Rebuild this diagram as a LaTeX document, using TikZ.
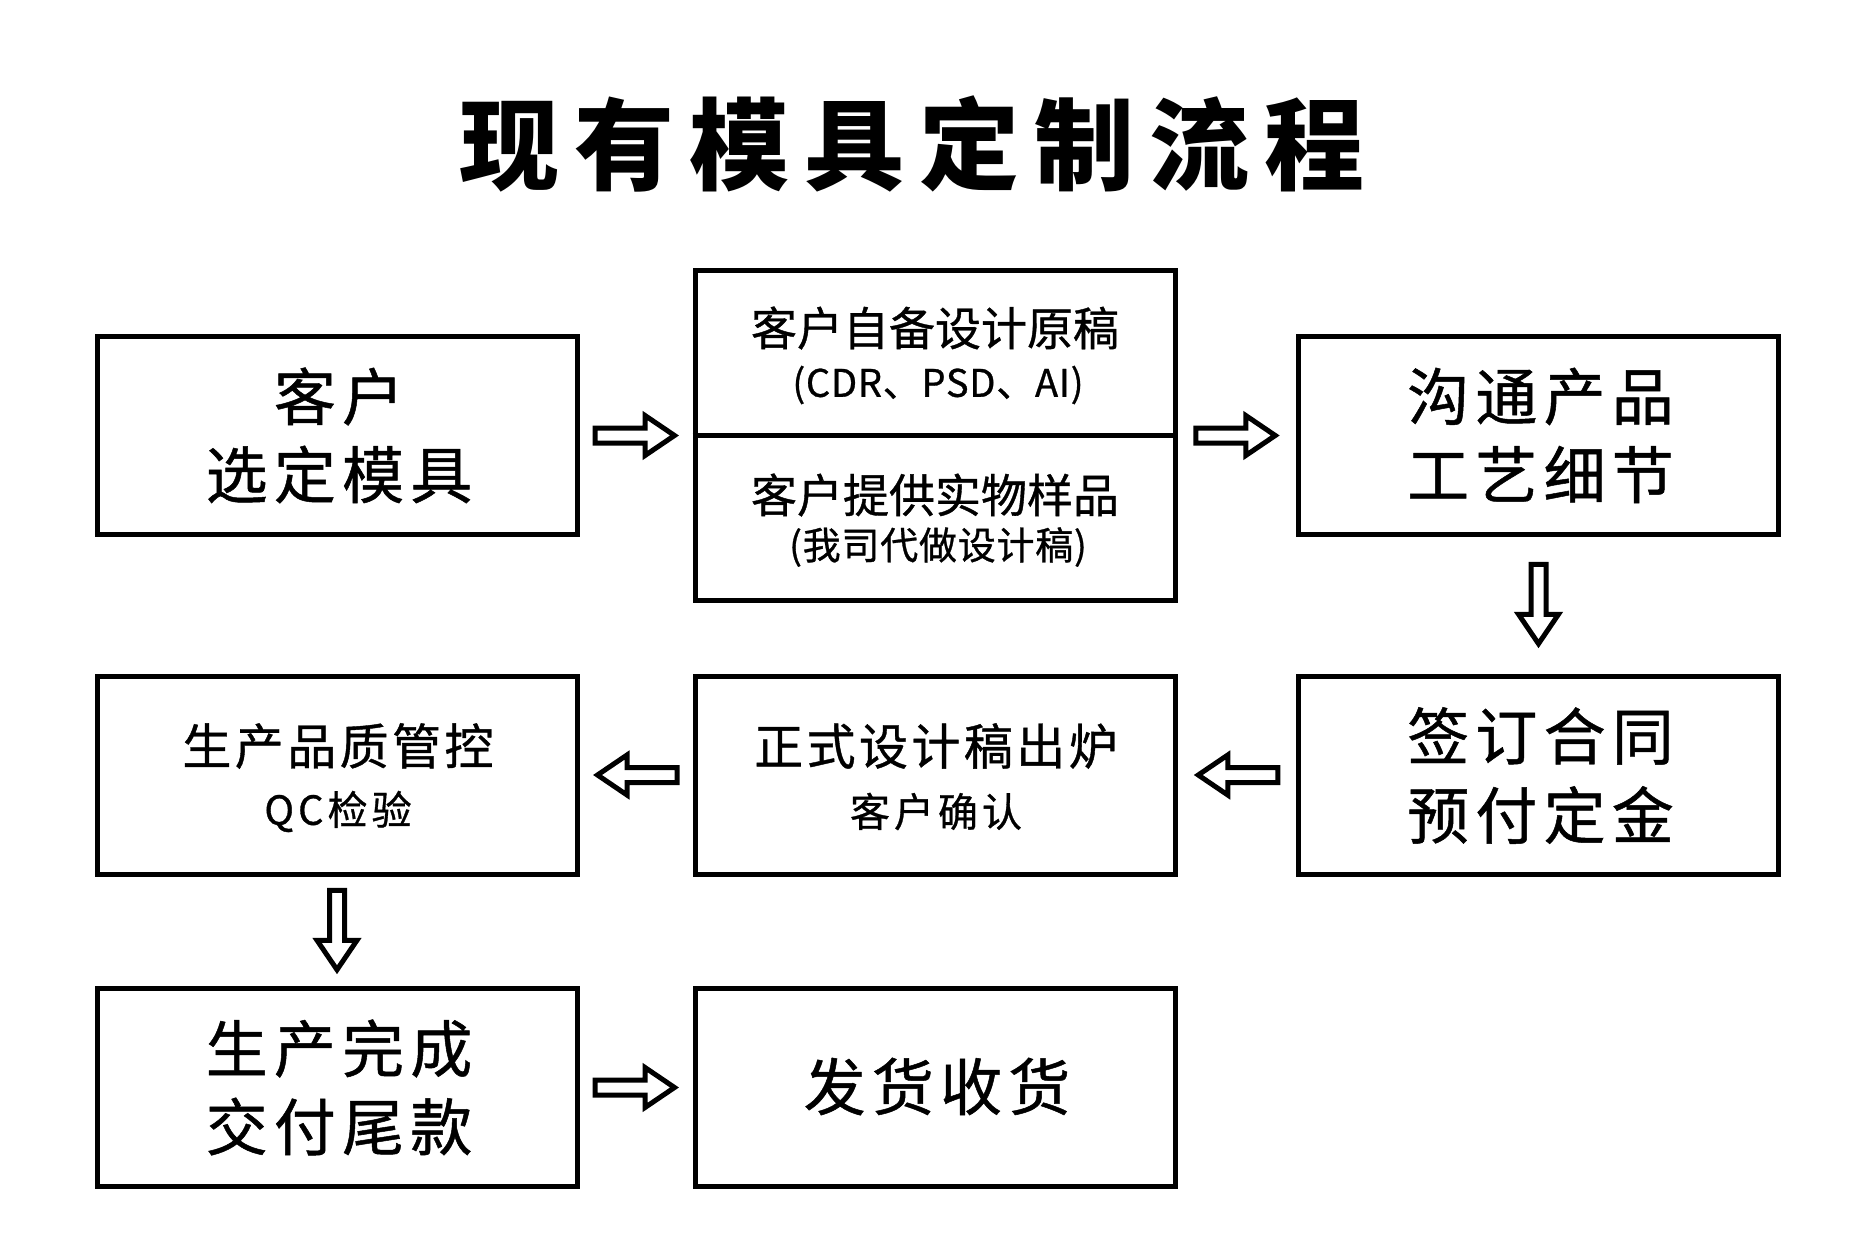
\documentclass[tikz,border=0pt]{standalone}
\usepackage{fontspec}
\setmainfont{Noto Sans CJK SC}
\usetikzlibrary{calc}
\tikzset{
  box/.style={draw, line width=5pt, minimum width=480pt, minimum height=198pt, inner sep=0pt},
  tallbox/.style={box, minimum height=330pt},
  txt/.style={inner sep=0pt, text=black},
  bigtxt/.style={txt, font=\fontsize{62}{62}\selectfont\addfontfeature{LetterSpace=10,FakeBold=0.8}},
  midtxt/.style={txt, font=\fontsize{49}{49}\selectfont\addfontfeature{LetterSpace=7,FakeBold=0.8}},
  hdtxt/.style={txt, font=\fontsize{46}{46}\selectfont\addfontfeature{FakeBold=0.8}},
  smalltxt/.style={txt, font=\fontsize{40}{40}\selectfont\addfontfeature{LetterSpace=10,FakeBold=0.8}},
  subtxt/.style={txt, font=\fontsize{38}{38}\selectfont\addfontfeature{LetterSpace=2,FakeBold=0.8}},
  titletxt/.style={txt, font=\fontsize{100}{100}\selectfont\bfseries\addfontfeature{LetterSpace=15}},
  barrow/.pic={\draw[line width=5pt, fill=white, line join=miter]
     (-41,-7.5) -- (9,-7.5) -- (9,-20) -- (38.5,0) -- (9,20) -- (9,7.5) -- (-41,7.5) -- cycle;}
}
\begin{document}
\begin{tikzpicture}[x=1pt, y=-1pt]
\useasboundingbox[fill=white] (0,0) rectangle (1875,1249);

\node[titletxt] (title) at (912,143.5) {现有模具定制流程};

% boxes
\node[box]     (b1) at (337,435.5) {};
\node[tallbox] (b2) at (935,435.5) {};
\node[box]     (b3) at (1538.5,435.5) {};
\node[box]     (b4) at (337,775) {};
\node[box]     (b5) at (935,775) {};
\node[box]     (b6) at (1538.5,775) {};
\node[box]     (b7) at (337,1087.5) {};
\node[box]     (b8) at (935,1087.5) {};
\draw[line width=5pt] (b2.west) -- (b2.east);

% texts
\node[bigtxt] (t1a) at ($(b1)+(2,-39)$) {客户};
\node[bigtxt] (t1b) at ($(b1)+(2,39)$) {选定模具};

\node[hdtxt]  (t2a) at ($(b2)+(0,-107.5)$) {客户自备设计原稿};
\node[subtxt] (t2b) at ($(b2)+(3,-50.5)$) {(CDR、PSD、AI)};
\node[hdtxt]  (t2c) at ($(b2)+(0,59.5)$) {客户提供实物样品};
\node[subtxt] (t2d) at ($(b2)+(3,111.5)$) {(我司代做设计稿)};

\node[bigtxt] (t3a) at ($(b3)+(2,-39)$) {沟通产品};
\node[bigtxt] (t3b) at ($(b3)+(2,39)$) {工艺细节};

\node[midtxt] (t4a) at ($(b4)+(1,-29)$) {生产品质管控};
\node[smalltxt] (t4b) at ($(b4)+(1,36.5)$) {QC检验};

\node[midtxt] (t5a) at ($(b5)+(1,-29)$) {正式设计稿出炉};
\node[smalltxt] (t5b) at ($(b5)+(1,36.5)$) {客户确认};

\node[bigtxt] (t6a) at ($(b6)+(2,-39)$) {签订合同};
\node[bigtxt] (t6b) at ($(b6)+(2,40)$) {预付定金};

\node[bigtxt] (t7a) at ($(b7)+(2,-39)$) {生产完成};
\node[bigtxt] (t7b) at ($(b7)+(2,39)$) {交付尾款};

\node[bigtxt] (t8a) at ($(b8)+(2,-1)$) {发货收货};

% arrows
\pic at ($(b1.east)!0.5!(b2.west)$) {barrow};
\pic at ($(b2.east)!0.5!(b3.west)$) {barrow};
\pic[rotate=-90] at ($(b3.south)!0.5!(b6.north)$) {barrow};
\pic[rotate=180] at ($(b6.west)!0.5!(b5.east)$) {barrow};
\pic[rotate=180] at ($(b5.west)!0.5!(b4.east)$) {barrow};
\pic[rotate=-90] at ($(b4.south)!0.5!(b7.north)$) {barrow};
\pic at ($(b7.east)!0.5!(b8.west)$) {barrow};
\end{tikzpicture}
\end{document}
